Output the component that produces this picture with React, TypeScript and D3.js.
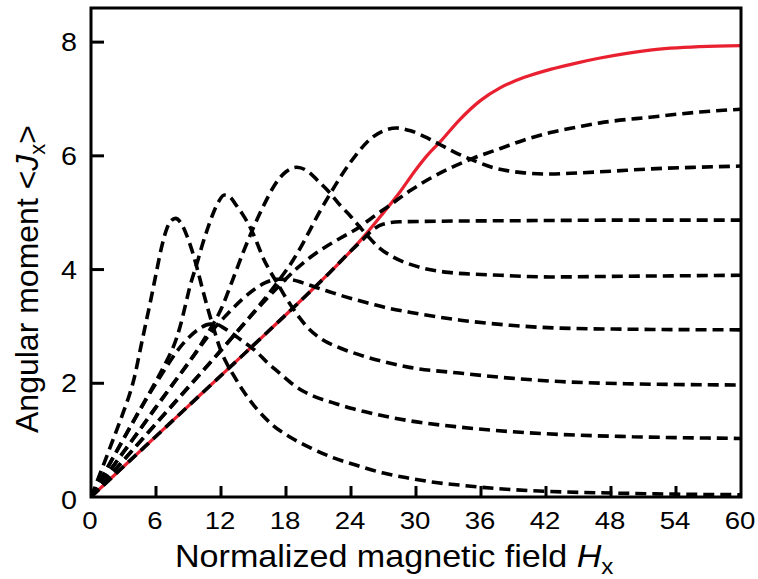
import React from 'react';
import * as d3 from 'd3';

type Pt = [number, number];

// [field, <Jx>]
const groundState: Pt[] = [
  [0, 0], [5, 0.89], [10, 1.78], [15, 2.67], [20, 3.57], [22, 3.94], [24, 4.33], [25.5, 4.65],
  [27, 5.0], [28.5, 5.36], [30, 5.76], [31, 6.0], [32.2, 6.24], [34, 6.63], [36, 6.98],
  [37.8, 7.2], [40, 7.38], [42.4, 7.52], [45, 7.64], [47, 7.72], [51.6, 7.86], [56.2, 7.92], [60, 7.94],
];

const levelA: Pt[] = [
  [0, 0], [1, 0.49], [2, 0.99], [3, 1.5], [3.6, 1.83], [4, 2.1], [4.5, 2.55], [5, 3.0], [5.5, 3.45],
  [6, 3.92], [6.5, 4.38], [7, 4.72], [7.4, 4.86], [7.8, 4.9], [8.3, 4.82], [8.8, 4.62], [9.3, 4.35],
  [9.8, 4.02], [10.3, 3.65], [10.8, 3.3], [11.3, 2.98], [11.9, 2.62], [12.5, 2.36], [13.1, 2.16],
  [14, 1.88], [15.3, 1.55], [16.8, 1.26], [18.4, 1.05], [20.2, 0.87], [22.1, 0.71], [24.8, 0.54],
  [27, 0.42], [29.4, 0.33], [32, 0.25], [34, 0.21], [38, 0.14], [42, 0.1], [48, 0.07], [54, 0.05], [60, 0.04],
];

const levelB: Pt[] = [
  [0, 0], [2, 0.68], [4, 1.36], [6, 2.04], [7, 2.4], [7.6, 2.64], [8.2, 2.98], [8.7, 3.36], [9.1, 3.68],
  [9.8, 4.12], [10.3, 4.45], [10.8, 4.74], [11.3, 5.0], [11.8, 5.2], [12.3, 5.31], [12.8, 5.28],
  [13.3, 5.16], [14, 4.97], [14.7, 4.74], [15.3, 4.48], [15.9, 4.2], [16.5, 3.98], [17.2, 3.76],
  [18, 3.5], [18.6, 3.33], [19.3, 3.14], [19.9, 3.0], [21.1, 2.8], [23, 2.62], [24.8, 2.5], [27, 2.38],
  [29.4, 2.28], [34, 2.18], [38.7, 2.09], [43.3, 2.03], [50, 1.99], [60, 1.97],
];

const levelE: Pt[] = [
  [0, 0], [2, 0.68], [4, 1.36], [5, 1.69], [6, 2.0], [7, 2.3], [8, 2.58], [9, 2.8], [10, 2.96],
  [11, 3.04], [11.5, 3.04], [12.2, 2.98], [13, 2.88], [14, 2.74], [15.3, 2.55], [16.3, 2.36],
  [17.4, 2.18], [18.5, 2.0], [19.6, 1.86], [21, 1.74], [22.3, 1.66], [24, 1.56], [25.5, 1.49],
  [29.4, 1.34], [34, 1.23], [38.7, 1.15], [43.3, 1.1], [50, 1.06], [60, 1.03],
];

const levelC: Pt[] = [
  [0, 0], [2, 0.53], [4, 1.05], [6, 1.58], [8, 2.1], [9, 2.36], [10, 2.64], [11, 2.95], [12, 3.3],
  [13, 3.78], [14, 4.28], [15, 4.74], [16, 5.15], [17, 5.5], [18, 5.72], [19, 5.8], [20, 5.73],
  [21, 5.55], [22, 5.36], [23, 5.13], [24, 4.93], [24.8, 4.75], [25.5, 4.6], [26.5, 4.4], [27.9, 4.22],
  [30, 4.06], [33, 3.95], [37.8, 3.9], [42.4, 3.87], [48, 3.88], [54, 3.89], [60, 3.9],
];

const levelF: Pt[] = [
  [0, 0], [2, 0.53], [4, 1.05], [6, 1.58], [8, 2.1], [9, 2.36], [10, 2.62], [11.3, 2.95], [12.5, 3.2],
  [13.8, 3.45], [15, 3.64], [16, 3.76], [17.3, 3.83], [18.5, 3.82], [19.5, 3.77], [20.7, 3.69],
  [22, 3.61], [23.5, 3.52], [24.8, 3.45], [25.8, 3.4], [27, 3.34], [29.4, 3.25], [34.1, 3.11],
  [38.7, 3.02], [43.3, 2.97], [50, 2.95], [60, 2.94],
];

const levelD: Pt[] = [
  [0, 0], [4, 0.86], [8, 1.72], [12, 2.58], [14, 3.02], [15.5, 3.36], [17.3, 3.8], [18.6, 4.15],
  [19.5, 4.44], [20.2, 4.69], [21, 4.98], [22.1, 5.34], [23, 5.62], [24, 5.9], [24.6, 6.05],
  [25.8, 6.3], [27, 6.44], [28.2, 6.49], [29.5, 6.44], [31, 6.32], [32.2, 6.2], [33.5, 6.07],
  [35.3, 5.92], [37, 5.8], [38.4, 5.74], [40, 5.7], [42.4, 5.68], [45, 5.7], [48, 5.73],
  [51.6, 5.77], [56, 5.8], [60, 5.82],
];

const levelH: Pt[] = [
  [0, 0], [4, 0.86], [8, 1.72], [12, 2.58], [14, 3.02], [15.5, 3.34], [17.5, 3.74], [19, 4.02],
  [20, 4.18], [21.5, 4.38], [23, 4.55], [24.8, 4.75], [26, 4.92], [27.5, 5.12], [29.4, 5.38],
  [31, 5.57], [33, 5.77], [35.3, 5.96], [37.8, 6.13], [40, 6.28], [42.4, 6.41], [45, 6.51],
  [47, 6.58], [51.6, 6.68], [56.2, 6.77], [60, 6.82],
];

const levelG: Pt[] = [
  [0, 0], [5, 0.89], [10, 1.78], [15, 2.67], [20, 3.57], [22, 3.94], [24, 4.33], [25, 4.51],
  [26, 4.7], [27, 4.8], [28.5, 4.84], [32, 4.85], [40, 4.86], [50, 4.87], [60, 4.87],
];

const dashedLevels = [levelA, levelE, levelB, levelF, levelC, levelG, levelD, levelH];

const xTicks = [0, 6, 12, 18, 24, 30, 36, 42, 48, 54, 60];
const yTicks = [0, 2, 4, 6, 8];

const W = 758;
const H = 579;
const m = { left: 91, top: 8, right: 741, bottom: 497 };
const font = "'Liberation Sans', Arial, Helvetica, sans-serif";

export default function App() {
  const x = d3.scaleLinear().domain([0, 60]).range([m.left, m.right]);
  const y = d3.scaleLinear().domain([0, 8.6]).range([m.bottom, m.top]);

  const line = d3
    .line<Pt>()
    .x((d) => x(d[0]))
    .y((d) => y(d[1]))
    .curve(d3.curveMonotoneX);

  return (
    <div style={{ position: 'absolute', left: 0, top: 0 }}>
      <svg width={W} height={H} style={{ display: 'block', background: '#fff' }}>
        <defs>
          <clipPath id="plot">
            <rect x={m.left} y={m.top} width={m.right - m.left} height={m.bottom - m.top} />
          </clipPath>
        </defs>

        <g clipPath="url(#plot)">
          <path d={line(groundState) || ''} fill="none" stroke="#e8202f" strokeWidth={3.2} />
          {dashedLevels.map((d, i) => (
            <path
              key={i}
              d={line(d) || ''}
              fill="none"
              stroke="#000"
              strokeWidth={3.6}
              strokeDasharray="11,6"
            />
          ))}
        </g>

        {/* ticks, inward */}
        {xTicks.slice(1, -1).map((t) => (
          <line key={'xt' + t} x1={x(t)} x2={x(t)} y1={m.bottom} y2={m.bottom - 11} stroke="#000" strokeWidth={3} />
        ))}
        {yTicks.slice(1).map((t) => (
          <line key={'yt' + t} x1={m.left} x2={m.left + 13} y1={y(t)} y2={y(t)} stroke="#000" strokeWidth={3} />
        ))}

        <rect
          x={m.left}
          y={m.top}
          width={m.right - m.left}
          height={m.bottom - m.top}
          fill="none"
          stroke="#000"
          strokeWidth={3}
        />

        {xTicks.map((t) => (
          <text
            key={'xl' + t}
            transform={`translate(${x(t) - 1},529) scale(1.15,1)`}
            textAnchor="middle"
            fontFamily={font}
            fontSize={24}
          >
            {t}
          </text>
        ))}
        {yTicks.map((t) => (
          <text
            key={'yl' + t}
            transform={`translate(77,${y(t) + (t === 0 ? 12 : 9)}) scale(1.15,1)`}
            textAnchor="end"
            fontFamily={font}
            fontSize={25}
          >
            {t}
          </text>
        ))}

        <text transform="translate(175,567) scale(1.1,1)" fontFamily={font} fontSize={31}>
          Normalized magnetic field <tspan fontStyle="italic">H</tspan>
          <tspan fontSize={22} dy={7}>x</tspan>
        </text>

        <text transform="translate(38,433) rotate(-90)" fontFamily={font} fontSize={32}>
          Angular moment &lt;<tspan fontStyle="italic">J</tspan>
          <tspan fontSize={22} dy={7}>x</tspan>
          <tspan dy={-7}>&gt;</tspan>
        </text>
      </svg>
    </div>
  );
}
